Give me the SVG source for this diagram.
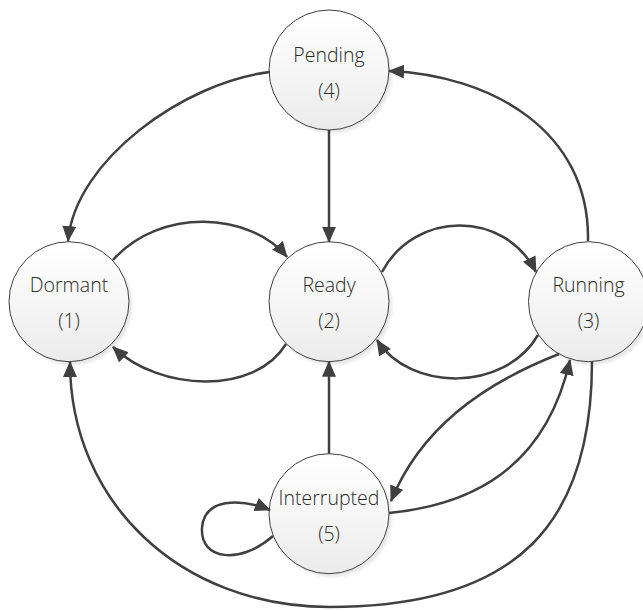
<svg xmlns="http://www.w3.org/2000/svg" width="643" height="611" viewBox="0 0 643 611">
  <style>
    .state circle.body { fill: url(#stateFill); stroke: #404040; stroke-width: 1; }
    .state circle.shade { fill: #cfcfcf; opacity: 0.5; filter: url(#soft); }
    .state text { font-family: "Open Sans", "Noto Sans", "DejaVu Sans", sans-serif; font-size: 19.5px; font-weight: 300; fill: #2a2a2a; text-anchor: middle; }
    .edge { fill: none; stroke: #404040; stroke-width: 2.5; marker-end: url(#arrow); }
  </style>
  <defs>
    <linearGradient id="stateFill" x1="0" y1="0" x2="0" y2="1">
      <stop offset="0" stop-color="#ffffff"/>
      <stop offset="0.45" stop-color="#f7f7f7"/>
      <stop offset="1" stop-color="#ebebeb"/>
    </linearGradient>
    <filter id="soft" x="-20%" y="-20%" width="140%" height="140%">
      <feGaussianBlur stdDeviation="1.5"/>
    </filter>
    <marker id="arrow" viewBox="0 0 16 14" refX="15" refY="7" markerWidth="16" markerHeight="14" markerUnits="userSpaceOnUse" orient="auto">
      <path d="M0,0 L16,7 L0,14 z" fill="#404040"/>
    </marker>
  </defs>

  <rect width="643" height="611" fill="#ffffff"/>

  <!-- states -->
  <g id="pending" class="state">
    <circle class="shade" cx="332" cy="73" r="60"/>
    <circle class="body" cx="329" cy="70" r="60"/>
    <text x="329" y="62">Pending</text>
    <text x="329" y="98">(4)</text>
  </g>
  <g id="dormant" class="state">
    <circle class="shade" cx="72" cy="304.7" r="60"/>
    <circle class="body" cx="69" cy="301.7" r="60"/>
    <text x="69" y="292">Dormant</text>
    <text x="69" y="328">(1)</text>
  </g>
  <g id="ready" class="state">
    <circle class="shade" cx="332" cy="304.7" r="60"/>
    <circle class="body" cx="329" cy="301.7" r="60"/>
    <text x="329" y="292">Ready</text>
    <text x="329" y="328">(2)</text>
  </g>
  <g id="running" class="state">
    <circle class="shade" cx="591.5" cy="304.7" r="60"/>
    <circle class="body" cx="588.5" cy="301.7" r="60"/>
    <text x="588.5" y="292">Running</text>
    <text x="588.5" y="328">(3)</text>
  </g>
  <g id="interrupted" class="state">
    <circle class="shade" cx="332" cy="516.7" r="60"/>
    <circle class="body" cx="329" cy="513.7" r="60"/>
    <text x="329" y="505">Interrupted</text>
    <text x="329" y="541">(5)</text>
  </g>

  <!-- transitions -->
  <g id="connectors">
    <path class="edge" d="M270,72 C185,82 75,160 68,241"/>
    <path class="edge" d="M329,130 L329,241.7"/>
    <path class="edge" d="M588,241 C590,130 490,75 389,71"/>
    <path class="edge" d="M113,260 C160,207 250,212 287,257"/>
    <path class="edge" d="M286,344 C255,395 160,392 113,347"/>
    <path class="edge" d="M382,272 C415,210 505,210 536,272"/>
    <path class="edge" d="M538,335 C505,392 410,392 377,340"/>
    <path class="edge" d="M329,453.7 L329,361.7"/>
    <path class="edge" d="M559,354 C480,385 420,430 391,501"/>
    <path class="edge" d="M389,513 C470,505 545,470 570,360"/>
    <path class="edge" d="M592,361 C592,521 520,607 330,607 C180,607 70,502 70,362"/>
    <path class="edge" d="M273,536 C240,565 200,560 202,528 C204,498 240,498 270,510"/>
  </g>
</svg>
